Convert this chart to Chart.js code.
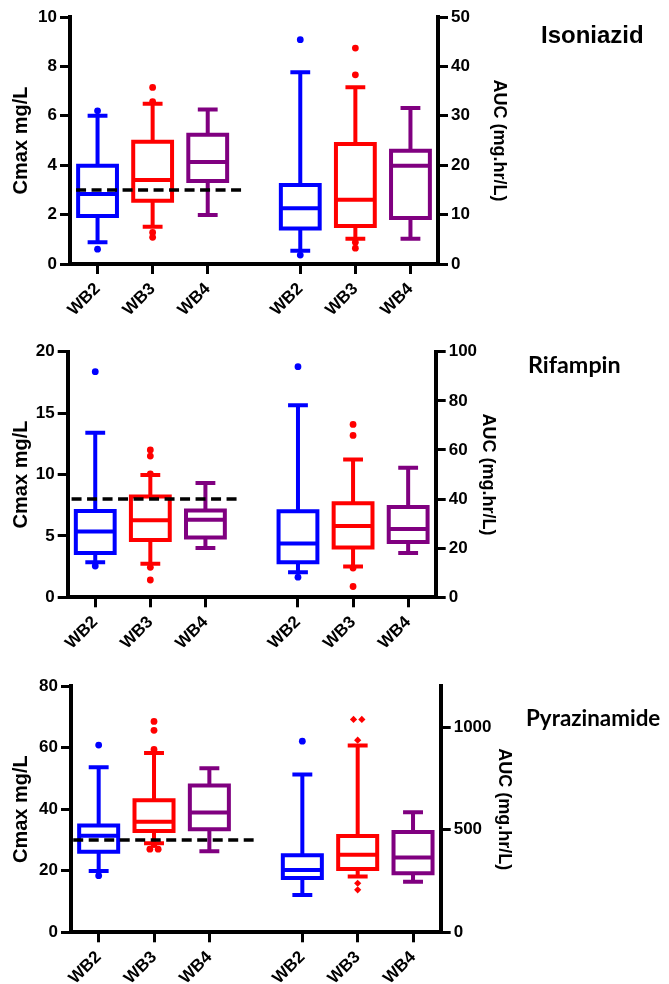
<!DOCTYPE html>
<html>
<head>
<meta charset="utf-8">
<script src="https://cdn.jsdelivr.net/npm/chart.js@4.4.1/dist/chart.umd.min.js"></script>
<style>
  html, body { margin: 0; padding: 0; background: #fff; }
  #page { position: relative; width: 669px; height: 984px; overflow: hidden; }
  #page canvas { position: absolute; left: 0; }
  .drug { position: absolute; font-weight: bold; color: #000; white-space: nowrap; line-height: 1; }
  .drug.arial { font-family: 'Liberation Sans', Arial, sans-serif; }
  .drug.calibri { font-family: Lato, 'Open Sans', sans-serif; }
</style>
</head>
<body>
<div id="page">
  <canvas id="inh" width="669" height="340" style="top:0px"></canvas>
  <canvas id="rif" width="669" height="340" style="top:322px"></canvas>
  <canvas id="pza" width="669" height="340" style="top:644px"></canvas>
  <div class="drug arial" style="left:541px; top:23px; font-size:24px">Isoniazid</div>
  <div class="drug calibri" style="left:528px; top:353px; font-size:23.3px">Rifampin</div>
  <div class="drug calibri" style="left:526px; top:707px; font-size:22.4px">Pyrazinamide</div>
</div>
<script>
// ─── Data ─────────────────────────────────────────────────────────
// box stats per group: [whisker low, Q1, median, Q3, whisker high]
const GROUPS = ['WB2', 'WB3', 'WB4'];

// Isoniazid
const INH_CMAX_BOX = [[0.88, 1.94, 2.83, 3.98, 6.0], [1.51, 2.56, 3.40, 4.95, 6.49], [1.98, 3.36, 4.13, 5.23, 6.26]];
const INH_CMAX_OUT = [[0.6, 6.2], [1.08, 1.28, 6.57, 7.15], []];
const INH_AUC_BOX = [[2.7, 7.2, 11.3, 16.0, 38.8], [5.1, 7.7, 13.0, 24.3, 35.8], [5.1, 9.3, 19.9, 22.9, 31.6]];
const INH_AUC_OUT = [[1.8, 45.4], [3.2, 4.4, 38.3, 43.7], []];
const INH_CMAX_TICKS = [0, 2, 4, 6, 8, 10];
const INH_AUC_TICKS = [0, 10, 20, 30, 40, 50];
const INH_TARGET = 3;

// Rifampin
const RIF_CMAX_BOX = [[2.85, 3.61, 5.35, 7.03, 13.4], [2.74, 4.67, 6.27, 8.2, 9.96], [4.02, 4.86, 6.32, 7.06, 9.31]];
const RIF_CMAX_OUT = [[2.55, 18.37], [1.41, 2.44, 10.04, 11.5, 12.0], []];
const RIF_AUC_BOX = [[10.2, 14.3, 21.9, 35.0, 78.2], [12.5, 20.3, 29.0, 38.3, 56.1], [18.0, 22.5, 27.8, 36.8, 52.7]];
const RIF_AUC_OUT = [[8.2, 93.9], [4.4, 11.9, 65.9, 70.4], []];
const RIF_CMAX_TICKS = [0, 5, 10, 15, 20];
const RIF_AUC_TICKS = [0, 20, 40, 60, 80, 100];
const RIF_TARGET = 8;

// Pyrazinamide
const PZA_CMAX_BOX = [[19.9, 26.2, 31.4, 34.7, 53.6], [28.9, 32.9, 35.9, 42.9, 58.2], [26.3, 33.5, 38.9, 47.7, 53.3]];
const PZA_CMAX_OUT = [[18.4, 60.8], [27.0, 27.0, 28.5, 59.4, 65.6, 68.5], []];
const PZA_AUC_BOX = [[182, 264, 303, 375, 769], [272, 309, 378, 469, 910], [246, 288, 365, 489, 585]];
const PZA_AUC_OUT = [[931], [207, 239, 936, 1037, 1037], []];
const PZA_CMAX_TICKS = [0, 20, 40, 60, 80];
const PZA_AUC_TICKS = [0, 500, 1000];
const PZA_TARGET = 30;

// ─── Look ─────────────────────────────────────────────────────────
const COLORS = ['#0000ff', '#ff0000', '#800080'];
const LEFT_X = [1, 2, 3];
const RIGHT_X = [4.68, 5.68, 6.68];
const X_MIN = 0.5;
const X_MAX = 7.18;
const BOX_W = 0.705;
const CAP_W = 0.36;
const CANVAS_H = 340;
const X_AXIS_H = 51;
const FONT = "'Liberation Sans', Arial, sans-serif";

const boxPlugin = {
    id: 'boxes',
    beforeDatasetsDraw(chart, args, opts) {
        const { ctx } = chart;
        const xs = chart.scales.x;
        ctx.save();
        ctx.lineWidth = 4;
        ctx.lineCap = 'butt';
        ctx.lineJoin = 'miter';
        opts.sets.forEach((set) => {
            const ys = chart.scales[set.axis];
            const py = (v) => ys.getPixelForValue(v);
            set.stats.forEach(([lo, q1, med, q3, hi], i) => {
                const cx = set.xs[i];
                const bl = xs.getPixelForValue(cx - BOX_W / 2);
                const br = xs.getPixelForValue(cx + BOX_W / 2);
                const cl = xs.getPixelForValue(cx - CAP_W / 2);
                const cr = xs.getPixelForValue(cx + CAP_W / 2);
                const xm = xs.getPixelForValue(cx);
                ctx.strokeStyle = COLORS[i];
                ctx.beginPath();
                ctx.rect(bl, py(q3), br - bl, py(q1) - py(q3));
                ctx.moveTo(bl, py(med)); ctx.lineTo(br, py(med));
                ctx.moveTo(xm, py(q3)); ctx.lineTo(xm, py(hi));
                ctx.moveTo(cl, py(hi)); ctx.lineTo(cr, py(hi));
                ctx.moveTo(xm, py(q1)); ctx.lineTo(xm, py(lo));
                ctx.moveTo(cl, py(lo)); ctx.lineTo(cr, py(lo));
                ctx.stroke();
            });
        });
        ctx.restore();
    },
};

// equal outliers are spread sideways like the original plot
function spread(vals, cx) {
    return vals.map((v, j) => {
        const n = vals.filter((w) => w === v).length;
        const k = vals.slice(0, j).filter((w) => w === v).length;
        const off = n > 1 ? (k - (n - 1) / 2) * 0.15 : 0;
        return { x: cx + off, y: v };
    });
}

function outlierSets(outs, xs, axis, styles) {
    return outs.map((vals, i) => {
        const style = (styles && styles[i]) || 'circle';
        return {
            data: spread(vals, xs[i]),
            yAxisID: axis,
            backgroundColor: COLORS[i],
            borderColor: COLORS[i],
            borderWidth: 0,
            pointRadius: style === 'rectRot' ? 3.6 : 3.4,
            pointStyle: style,
        };
    });
}

function fixedTicks(list) {
    return (s) => { s.ticks = list.map((v) => ({ value: v })); };
}

function makePanel(p) {
    const X_TICKS = [...LEFT_X, ...RIGHT_X];
    const X_LABELS = [...GROUPS, ...GROUPS];
    const top = p.plotTop - p.canvasTop;
    const bottom = CANVAS_H - (p.plotBottom - p.canvasTop) - X_AXIS_H;
    const rightW = p.aucTitleX + 4 + 18 * 1.2 / 2 - p.right;
    const tickFont = { family: FONT, weight: 'bold', size: 17 };
    const grid = { drawOnChartArea: false, drawTicks: true, tickLength: 10, lineWidth: 3, color: '#000' };
    const border = { display: true, width: 4, color: '#000' };

    return new Chart(document.getElementById(p.id), {
        type: 'scatter',
        data: {
            datasets: [
                {
                    data: [{ x: p.targetFrom, y: p.target }, { x: p.targetTo, y: p.target }],
                    yAxisID: 'y',
                    showLine: true,
                    borderColor: '#000',
                    borderWidth: 3.5,
                    borderDash: [10, 5.5],
                    pointRadius: 0,
                },
                ...outlierSets(p.cmaxOut, LEFT_X, 'y'),
                ...outlierSets(p.aucOut, RIGHT_X, 'y1', p.aucPoints),
            ],
        },
        options: {
            responsive: false,
            animation: false,
            events: [],
            layout: { padding: { top, bottom, left: 0, right: 669 - p.right - rightW } },
            plugins: {
                legend: { display: false },
                tooltip: { enabled: false },
                boxes: {
                    sets: [
                        { axis: 'y', xs: LEFT_X, stats: p.cmaxBox },
                        { axis: 'y1', xs: RIGHT_X, stats: p.aucBox },
                    ],
                },
            },
            scales: {
                x: {
                    type: 'linear',
                    min: X_MIN,
                    max: X_MAX,
                    afterBuildTicks: fixedTicks(X_TICKS),
                    afterFit: (s) => { s.height = X_AXIS_H; },
                    ticks: {
                        autoSkip: false, minRotation: 45, maxRotation: 45, padding: 5,
                        color: '#000', font: tickFont,
                        callback: (v, i) => X_LABELS[i],
                    },
                    grid, border,
                },
                y: {
                    position: 'left',
                    min: 0,
                    max: p.cmaxTicks[p.cmaxTicks.length - 1],
                    afterBuildTicks: fixedTicks(p.cmaxTicks),
                    afterFit: (s) => { s.width = p.left; },
                    ticks: { padding: 3, color: '#000', font: tickFont, callback: (v) => String(v) },
                    title: {
                        display: true, text: 'Cmax mg/L', color: '#000',
                        font: { family: FONT, weight: 'bold', size: 20 },
                        padding: { top: 9, bottom: 0 },
                    },
                    grid, border,
                },
                y1: {
                    position: 'right',
                    min: 0,
                    max: p.aucMax,
                    afterBuildTicks: fixedTicks(p.aucTicks),
                    afterFit: (s) => { s.width = rightW; },
                    ticks: { padding: 3, color: '#000', font: tickFont, callback: (v) => String(v) },
                    title: {
                        display: true, text: 'AUC (mg.hr/L)', color: '#000',
                        font: { family: FONT, weight: 'bold', size: 18 },
                        padding: { top: 4, bottom: 0 },
                    },
                    grid, border,
                },
            },
        },
        plugins: [boxPlugin],
    });
}

makePanel({
    id: 'inh', canvasTop: 0, plotTop: 17, plotBottom: 264, left: 70, right: 438, aucTitleX: 498.5,
    cmaxBox: INH_CMAX_BOX, cmaxOut: INH_CMAX_OUT, aucBox: INH_AUC_BOX, aucOut: INH_AUC_OUT,
    cmaxTicks: INH_CMAX_TICKS, aucTicks: INH_AUC_TICKS, aucMax: 50,
    target: INH_TARGET, targetFrom: 0.61, targetTo: 3.66,
});

makePanel({
    id: 'rif', canvasTop: 322, plotTop: 351.7, plotBottom: 597.3, left: 67.7, right: 435.7, aucTitleX: 488,
    cmaxBox: RIF_CMAX_BOX, cmaxOut: RIF_CMAX_OUT, aucBox: RIF_AUC_BOX, aucOut: RIF_AUC_OUT,
    cmaxTicks: RIF_CMAX_TICKS, aucTicks: RIF_AUC_TICKS, aucMax: 100,
    target: RIF_TARGET, targetFrom: 0.57, targetTo: 3.62,
});

makePanel({
    id: 'pza', canvasTop: 644, plotTop: 686, plotBottom: 932.3, left: 71, right: 440.7, aucTitleX: 503.5,
    cmaxBox: PZA_CMAX_BOX, cmaxOut: PZA_CMAX_OUT, aucBox: PZA_AUC_BOX, aucOut: PZA_AUC_OUT,
    cmaxTicks: PZA_CMAX_TICKS, aucTicks: PZA_AUC_TICKS, aucMax: 1200,
    aucPoints: ['circle', 'rectRot', 'circle'],
    target: PZA_TARGET, targetFrom: 0.54, targetTo: 3.8,
});
</script>
</body>
</html>
